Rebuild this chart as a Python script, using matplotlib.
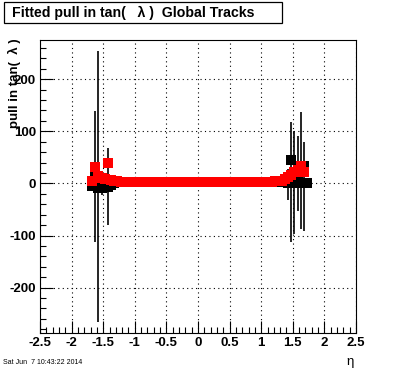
import matplotlib
matplotlib.use("Agg")
import matplotlib.pyplot as plt
from matplotlib.ticker import MultipleLocator
from matplotlib.patches import Rectangle

plt.rcParams['font.family'] = ['Liberation Sans', 'DejaVu Sans']

nan = float('nan')

# bin centers in eta
eta = [-1.675, -1.625, -1.575, -1.525, -1.475, -1.425, -1.375, -1.325, -1.275, -1.225,
       -1.175, -1.125, -1.075, -1.025, -0.975, -0.925, -0.875, -0.825, -0.775, -0.725,
       -0.675, -0.625, -0.575, -0.525, -0.475, -0.425, -0.375, -0.325, -0.275, -0.225,
       -0.175, -0.125, -0.075, -0.025, 0.025, 0.075, 0.125, 0.175, 0.225, 0.275,
       0.325, 0.375, 0.425, 0.475, 0.525, 0.575, 0.625, 0.675, 0.725, 0.775,
       0.825, 0.875, 0.925, 0.975, 1.025, 1.075, 1.125, 1.175, 1.225, 1.275,
       1.325, 1.375, 1.425, 1.475, 1.525, 1.575, 1.625, 1.675, 1.725]

# black series (drawn underneath)
black_val = [-5, 20, -8, -8, -5, -6, -3, 1, 2, 2,
             2, 2, 2, 2, 2, 2, 2, 2, 2, 2,
             2, 2, 2, 2, 2, 2, 2, 2, 2, 2,
             2, 2, 2, 2, 2, 2, 2, 2, 2, 2,
             2, 2, 2, 2, 2, 2, 2, 2, 2, 2,
             2, 2, 2, 2, 2, 2, 2, 2, 2, 2,
             2, 2, 0, 45, 1, 19, 0, 33, 0]
black_lo = [8, 133, 257, 15, 12, 73, 5, 3, 2, 2,
            2, 2, 2, 2, 2, 2, 2, 2, 2, 2,
            2, 2, 2, 2, 2, 2, 2, 2, 2, 2,
            2, 2, 2, 2, 2, 2, 2, 2, 2, 2,
            2, 2, 2, 2, 2, 2, 2, 2, 2, 2,
            2, 2, 2, 2, 2, 2, 2, 2, 2, 3,
            4, 5, 32, 158, 99, 72, 88, 125, 5]
black_hi = [8, 119, 262, 15, 12, 73, 5, 3, 2, 2,
            2, 2, 2, 2, 2, 2, 2, 2, 2, 2,
            2, 2, 2, 2, 2, 2, 2, 2, 2, 2,
            2, 2, 2, 2, 2, 2, 2, 2, 2, 2,
            2, 2, 2, 2, 2, 2, 2, 2, 2, 2,
            2, 2, 2, 2, 2, 2, 2, 2, 2, 2,
            3, 5, 28, 72, 99, 72, 137, 46, 5]

# red series (drawn on top)
red_val = [5, 31, 15, 10, 8, 40, 6, 4.5, 3.8, 3.5,
           3.4, 3.3, 3.2, 3.3, 3.2, 3.1, 3.2, 3.1, 3.0, 3.1,
           3.0, 3.1, 3.0, 3.0, 3.1, 3.0, 2.9, 3.0, 3.0, 2.9,
           3.0, 3.0, 2.9, 3.0, 3.0, 3.0, 2.9, 3.0, 3.0, 3.0,
           3.0, 3.1, 3.0, 3.0, 3.1, 3.0, 3.1, 3.1, 3.0, 3.1,
           3.2, 3.1, 3.2, 3.2, 3.3, 3.3, 3.4, 3.5, 3.7, 4.0,
           5, 9, 13, 17, 21, 26, 33, 22, nan]
red_err = [2, 3, 3, 2, 2, 3, 1, 1, 1, 1,
           1, 1, 1, 1, 1, 1, 1, 1, 1, 1,
           1, 1, 1, 1, 1, 1, 1, 1, 1, 1,
           1, 1, 1, 1, 1, 1, 1, 1, 1, 1,
           1, 1, 1, 1, 1, 1, 1, 1, 1, 1,
           1, 1, 1, 1, 1, 1, 1, 1, 1, 1,
           1, 2, 2, 2, 2, 3, 3, 3, 0]

xticks = [-2.5, -2, -1.5, -1, -0.5, 0, 0.5, 1, 1.5, 2, 2.5]
xticklabels = ['-2.5', '-2', '-1.5', '-1', '-0.5', '0', '0.5', '1', '1.5', '2', '2.5']
yticks = [-200, -100, 0, 100, 200]
yticklabels = ['-200', '-100', '0', '100', '200']

fig = plt.figure(figsize=(3.96, 3.72), dpi=100)
ax = fig.add_axes([40/396, 1 - 333/372, 316/396, 293/372])

ax.errorbar(eta, black_val, yerr=[black_lo, black_hi], fmt='s', color='black',
            ms=7.5, mew=0, elinewidth=1.2, capsize=0, zorder=3)
ax.errorbar(eta, red_val, yerr=red_err, fmt='s', color='red', ecolor='red',
            ms=7.5, mew=0, elinewidth=1.0, capsize=0, zorder=4)

ax.set_xlim(-2.5, 2.5)
ax.set_ylim(-287, 275)
ax.set_xticks(xticks)
ax.set_xticklabels(xticklabels, fontsize=9.5, fontweight='bold')
ax.set_yticks(yticks)
ax.set_yticklabels(yticklabels, fontsize=9.5, fontweight='bold')
ax.xaxis.set_minor_locator(MultipleLocator(0.1))
ax.yaxis.set_minor_locator(MultipleLocator(20))
ax.tick_params(which='both', direction='in', top=False, right=False, width=0.8)
ax.tick_params(which='major', length=9, pad=3)
ax.tick_params(which='minor', length=4.5)
ax.grid(True, which='major', linestyle=(0, (1, 3)), color='black', linewidth=0.8)
ax.set_axisbelow(True)
for s in ax.spines.values():
    s.set_linewidth(0.8)

# title box
fig.patches.append(Rectangle((4/396, 1 - 23/372), 278/396, 21/372, transform=fig.transFigure,
                             facecolor='white', edgecolor='black', linewidth=0.9))
fig.text(12/396, 1 - 12.5/372, 'Fitted pull in tan(   \u03bb )  Global Tracks',
         fontsize=10.2, fontweight='bold', ha='left', va='center')

# y label
fig.text(14/396, 1 - 38/372, 'pull in tan(  \u03bb )', rotation=90, fontsize=9.5,
         fontweight='bold', ha='center', va='top')
# x label
fig.text(350/396, 1 - 362/372, '\u03b7', fontsize=9.5, ha='center', va='center')
# date
fig.text(3/396, 1 - 363/372, 'Sat Jun  7 10:43:22 2014', fontsize=5, ha='left', va='center')

fig.savefig('out.png', dpi=100)
